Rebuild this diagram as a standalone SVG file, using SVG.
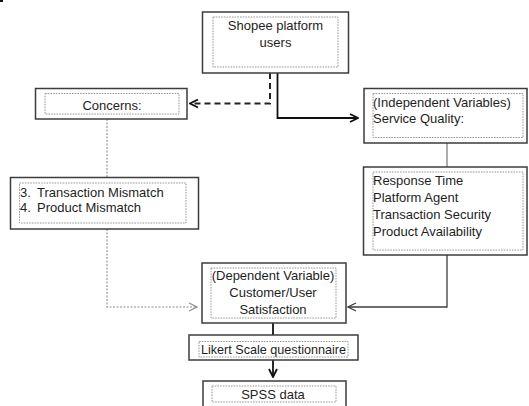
<svg xmlns="http://www.w3.org/2000/svg" width="529" height="406" viewBox="0 0 529 406">
<style>
.outer{fill:#fff;stroke:#3c3c3c;stroke-width:1.5}
.inner{fill:none;stroke:#8c8c8c;stroke-width:0.9;stroke-dasharray:1.6 1.1}
text{font-family:"Liberation Sans",Arial,sans-serif;font-size:13px;fill:#1e1e1e}
.c{text-anchor:middle}
.blk{fill:none;stroke:#111;stroke-width:1.8}
.dash{fill:none;stroke:#222;stroke-width:2;stroke-dasharray:6 4}
.dot{fill:none;stroke:#8c8c8c;stroke-width:1.1;stroke-dasharray:2 1.5}
.gray{fill:none;stroke:#6a6a6a;stroke-width:1.1}
.dk{fill:none;stroke:#3c3c3c;stroke-width:1.3}
</style>
<defs>
<marker id="aBlk" viewBox="0 0 10 10" refX="9" refY="5" markerWidth="10" markerHeight="10" markerUnits="userSpaceOnUse" orient="auto"><path d="M1,1 L9,5 L1,9" fill="none" stroke="#111" stroke-width="1.8"/></marker>
<marker id="aGray" viewBox="0 0 10 10" refX="9" refY="5" markerWidth="10" markerHeight="10" markerUnits="userSpaceOnUse" orient="auto"><path d="M1,1 L9,5 L1,9" fill="none" stroke="#8c8c8c" stroke-width="1.2"/></marker>
<marker id="aDk" viewBox="0 0 10 10" refX="9" refY="5" markerWidth="10" markerHeight="10" markerUnits="userSpaceOnUse" orient="auto"><path d="M1,1 L9,5 L1,9" fill="none" stroke="#3c3c3c" stroke-width="1.3"/></marker>
</defs>
<rect x="0" y="0" width="3" height="2" fill="#111"/>
<g id="connectors">
<polyline class="dash" points="270,73 270,103.5 190,103.5" marker-end="url(#aBlk)"/>
<polyline class="blk" points="277.5,73 277.5,118 358,118" marker-end="url(#aBlk)"/>
<line class="gray" x1="447" y1="143" x2="447" y2="167"/>
<line class="dot" x1="107" y1="119" x2="107" y2="177"/>
<polyline class="dot" points="107,229 107,307 197,307" marker-end="url(#aGray)"/>
<polyline class="dk" points="447,255 447,307 348,307" marker-end="url(#aDk)"/>
<line class="blk" x1="273" y1="323" x2="273" y2="335"/>
<line class="blk" x1="273" y1="360" x2="273" y2="377" marker-end="url(#aBlk)"/>
</g>
<g id="shopee">
<rect class="outer" x="202.5" y="12" width="146" height="61"/>
<rect class="inner" x="213" y="17" width="125" height="50"/>
<text class="c" x="275.5" y="30">Shopee platform</text>
<text class="c" x="275.5" y="47">users</text>
</g>
<g id="concerns">
<rect class="outer" x="35.5" y="88.5" width="151.5" height="30.5"/>
<rect class="inner" x="45" y="93.5" width="134" height="20.5"/>
<text class="c" x="112" y="109.5">Concerns:</text>
</g>
<g id="independent">
<rect class="outer" x="364" y="88.5" width="163" height="54.5"/>
<rect class="inner" x="373" y="93.5" width="150" height="44"/>
<text x="373" y="106.5">(Independent Variables)</text>
<text x="373" y="123">Service Quality:</text>
</g>
<g id="mismatch">
<rect class="outer" x="10.5" y="177.5" width="188" height="51.5"/>
<rect class="inner" x="19.5" y="183" width="166.5" height="40"/>
<text x="20" y="196.5">3.</text>
<text x="37" y="196.5">Transaction Mismatch</text>
<text x="20" y="212">4.</text>
<text x="37" y="212">Product Mismatch</text>
</g>
<g id="service">
<rect class="outer" x="363.5" y="167" width="163.5" height="88"/>
<rect class="inner" x="373" y="172" width="150" height="78"/>
<text x="373" y="185">Response Time</text>
<text x="373" y="202">Platform Agent</text>
<text x="373" y="219">Transaction Security</text>
<text x="373" y="236">Product Availability</text>
</g>
<g id="dependent">
<rect class="outer" x="202" y="263" width="144" height="60"/>
<rect class="inner" x="211" y="268" width="125" height="50"/>
<text class="c" x="273" y="280">(Dependent Variable)</text>
<text class="c" x="273" y="297">Customer/User</text>
<text class="c" x="273" y="314">Satisfaction</text>
</g>
<g id="likert">
<rect class="outer" x="189" y="335" width="169" height="25"/>
<rect class="inner" x="199" y="341.5" width="149" height="15.5"/>
<text class="c" x="273.5" y="353.5" textLength="145" lengthAdjust="spacingAndGlyphs">Likert Scale questionnaire</text>
</g>
<g id="spss">
<rect class="outer" x="203" y="381" width="143" height="30"/>
<rect class="inner" x="212" y="386" width="124" height="16"/>
<text class="c" x="273" y="399">SPSS data</text>
</g>
</svg>
